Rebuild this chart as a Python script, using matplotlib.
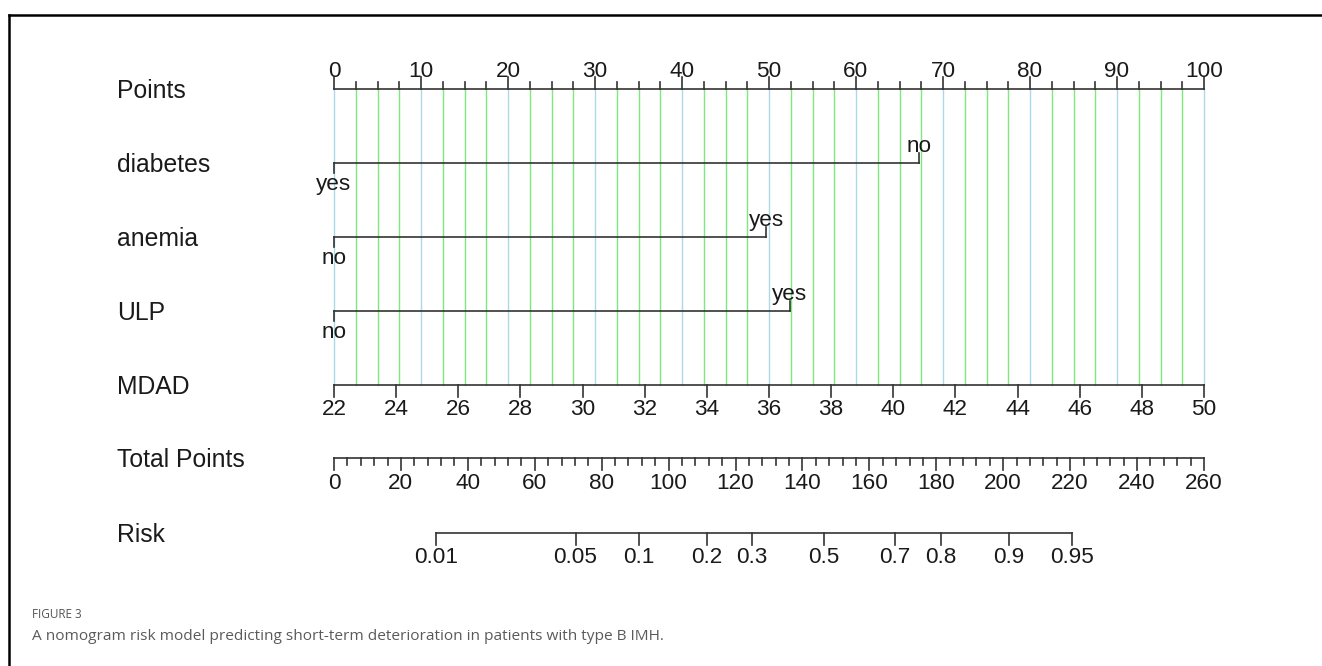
import numpy as np
import matplotlib
matplotlib.use('Agg')
import matplotlib.pyplot as plt
from matplotlib.lines import Line2D

plt.rcParams['font.family'] = ['Liberation Sans', 'DejaVu Sans']

# ---- data ----
points_major = np.arange(0, 101, 10)
points_minor = np.arange(0, 100.1, 2.5)

diabetes_levels = ['yes', 'no']
diabetes_points = [0, 67.2]
anemia_levels = ['no', 'yes']
anemia_points = [0, 49.7]
ulp_levels = ['no', 'yes']
ulp_points = [0, 52.4]

mdad_min, mdad_max = 22, 50
mdad_ticks = np.arange(22, 51, 2)

total_max = 260
total_major = np.arange(0, 261, 20)
total_minor = np.arange(0, 261, 4)

risk_ticks = [0.01, 0.05, 0.1, 0.2, 0.3, 0.5, 0.7, 0.8, 0.9, 0.95]
risk_labels = ['0.01', '0.05', '0.1', '0.2', '0.3', '0.5', '0.7', '0.8', '0.9', '0.95']
risk_intercept = -5.81
risk_slope = 0.0397

row_names = ['Points', 'diabetes', 'anemia', 'ULP', 'MDAD', 'Total Points', 'Risk']

# ---- layout (pixels) ----
W, H = 1322, 666
x0_px, x100_px = 334, 1204
row_y = [89, 162.7, 236.7, 311, 384.5, 458.3, 532.7]
label_x_px = 117
px_per_pt = (x100_px - x0_px) / 100.0

fig = plt.figure(figsize=(W / 100, H / 100), dpi=100)
ax = fig.add_axes([0, 0, 1, 1])
ax.set_xlim(-x0_px / px_per_pt, (W - x0_px) / px_per_pt)
ax.set_ylim(H, 0)
ax.axis('off')

line_col = '#333333'
txt_col = '#1a1a1a'
lw = 1.2
tick_fs = 16.2
lab_fs = 17.8
label_x = (label_x_px - x0_px) / px_per_pt


def mdad_to_pts(v):
    return (np.asarray(v, float) - mdad_min) / (mdad_max - mdad_min) * 100


def total_to_pts(t):
    return np.asarray(t, float) / total_max * 100


def risk_to_pts(r):
    r = np.asarray(r, float)
    tp = (np.log(r / (1 - r)) - risk_intercept) / risk_slope
    return total_to_pts(tp)


# grid lines
for p in points_minor:
    c = '#add8e6' if abs(p % 10) < 1e-6 else '#7fe87f'
    ax.plot([p, p], [row_y[0], row_y[4]], color=c, lw=1.0, zorder=1)

# row labels
for name, y in zip(row_names, row_y):
    ax.text(label_x, y + 9, name, fontsize=lab_fs, color=txt_col,
            ha='left', va='baseline')

# Points axis (ticks up)
y = row_y[0]
ax.plot([0, 100], [y, y], color=line_col, lw=lw, zorder=3)
for p in points_minor:
    L = 12 if abs(p % 10) < 1e-6 else 7
    ax.plot([p, p], [y, y - L], color=line_col, lw=lw, zorder=3)
for p in points_major:
    ax.text(p, y - 12, f'{p:g}', fontsize=tick_fs, color=txt_col,
            ha='center', va='baseline')

# categorical variables
for levels, pts, y in [(diabetes_levels, diabetes_points, row_y[1]),
                       (anemia_levels, anemia_points, row_y[2]),
                       (ulp_levels, ulp_points, row_y[3])]:
    ax.plot([min(pts), max(pts)], [y, y], color=line_col, lw=lw, zorder=3)
    for i, (lev, p) in enumerate(zip(levels, pts)):
        if i == 0:
            ax.plot([p, p], [y, y + 10], color=line_col, lw=lw, zorder=3)
            ax.text(p, y + 27, lev, fontsize=tick_fs, color=txt_col,
                    ha='center', va='baseline')
        else:
            ax.plot([p, p], [y, y - 10], color=line_col, lw=lw, zorder=3)
            ax.text(p, y - 11, lev, fontsize=tick_fs, color=txt_col,
                    ha='center', va='baseline')

# MDAD axis (ticks down)
y = row_y[4]
ax.plot(mdad_to_pts([mdad_min, mdad_max]), [y, y], color=line_col, lw=lw, zorder=3)
for v in mdad_ticks:
    p = mdad_to_pts(v)
    ax.plot([p, p], [y, y + 12], color=line_col, lw=lw, zorder=3)
    ax.text(p, y + 30.5, f'{v:g}', fontsize=tick_fs, color=txt_col,
            ha='center', va='baseline')

# Total points axis
y = row_y[5]
ax.plot(total_to_pts([0, total_max]), [y, y], color=line_col, lw=lw, zorder=3)
for t in total_minor:
    L = 12 if t % 20 == 0 else 7
    p = total_to_pts(t)
    ax.plot([p, p], [y, y + L], color=line_col, lw=lw, zorder=3)
for t in total_major:
    ax.text(total_to_pts(t), y + 30.5, f'{t:g}', fontsize=tick_fs, color=txt_col,
            ha='center', va='baseline')

# Risk axis
y = row_y[6]
rp = risk_to_pts(risk_ticks)
ax.plot([rp[0], rp[-1]], [y, y], color=line_col, lw=lw, zorder=3)
for p, lab in zip(rp, risk_labels):
    ax.plot([p, p], [y, y + 12], color=line_col, lw=lw, zorder=3)
    ax.text(p, y + 30, lab, fontsize=tick_fs, color=txt_col,
            ha='center', va='baseline')

# frame (top and left only, the image is cropped)
fig.add_artist(Line2D([9 / W, 1], [1 - 15 / H, 1 - 15 / H], color='black', lw=1.8,
                      transform=fig.transFigure))
fig.add_artist(Line2D([9 / W, 9 / W], [0, 1 - 15 / H], color='black', lw=1.8,
                      transform=fig.transFigure))

# caption
fig.text(32 / W, 1 - 614 / H, 'FIGURE 3', fontsize=8.5, color='#555555',
         family=['Open Sans', 'DejaVu Sans'], ha='left', va='center')
fig.text(32 / W, 1 - 637 / H,
         'A nomogram risk model predicting short-term deterioration in patients with type B IMH.',
         fontsize=11.05, color='#5a5a5a', family=['Open Sans', 'DejaVu Sans'],
         ha='left', va='center')

fig.savefig('out.png', dpi=100)
